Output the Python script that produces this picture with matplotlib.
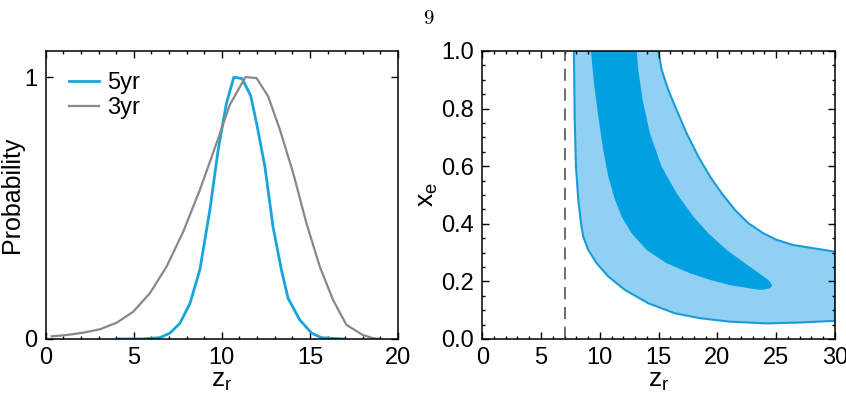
import matplotlib
matplotlib.use("Agg")
import matplotlib.pyplot as plt
from matplotlib.ticker import MultipleLocator, FixedLocator, FormatStrFormatter

plt.rcParams['font.family'] = ['Liberation Sans', 'DejaVu Sans']
plt.rcParams['mathtext.fontset'] = 'custom'
plt.rcParams['mathtext.rm'] = 'Liberation Sans'
plt.rcParams['mathtext.it'] = 'Liberation Sans'

# ---- data: left panel (1D probability of z_r) ----
z5 = [4.1, 5.5, 6.48, 7.05, 7.62, 8.19, 8.75, 9.32, 9.79, 10.26, 10.68, 11.15,
      11.63, 11.97, 12.44, 12.9, 13.38, 13.76, 14.42, 15.1, 15.65, 16.9]
p5 = [0.0, 0.0, 0.005, 0.022, 0.06, 0.136, 0.264, 0.493, 0.722, 0.90, 1.0, 0.994,
      0.93, 0.824, 0.659, 0.43, 0.264, 0.155, 0.073, 0.022, 0.005, 0.0]
z3 = [0.34, 1.19, 2.14, 3.08, 4.03, 4.97, 5.92, 6.86, 7.81, 8.75, 9.7, 10.45,
      11.34, 11.97, 12.63, 13.29, 14.05, 14.8, 15.56, 16.31, 17.07, 18.0, 18.58, 18.96]
p3 = [0.01, 0.015, 0.024, 0.037, 0.062, 0.104, 0.175, 0.276, 0.41, 0.569, 0.748, 0.894,
      1.0, 0.996, 0.926, 0.80, 0.633, 0.442, 0.276, 0.149, 0.054, 0.015, 0.003, 0.0]
labels_1d = ['5yr', '3yr']

# ---- data: right panel (2D confidence regions z_r vs x_e) ----
outer_z = [7.80, 7.86, 7.97, 8.17, 8.40, 8.59, 9.02, 9.73, 10.72, 12.14, 14.12, 16.39,
           18.52, 21.07, 24.19, 27.02, 30.0,
           30.0, 28.16, 26.46, 25.04, 23.9, 22.63, 21.49, 20.36, 19.37, 18.38, 17.38,
           16.53, 15.82, 15.26, 14.97]
outer_x = [1.0, 0.772, 0.598, 0.483, 0.402, 0.355, 0.309, 0.263, 0.217, 0.17, 0.124, 0.089,
           0.072, 0.060, 0.054, 0.057, 0.063,
           0.303, 0.315, 0.326, 0.344, 0.367, 0.402, 0.448, 0.506, 0.564, 0.633, 0.714,
           0.795, 0.865, 0.934, 1.0]
inner_z = [9.25, 9.50, 9.87, 10.29, 10.72, 11.29, 11.85, 12.70, 13.98, 15.68, 17.67, 19.37,
           21.07, 22.63, 23.76, 24.47, 24.67, 24.33, 23.34, 22.34, 20.79, 19.23, 17.95,
           16.53, 15.26, 14.26, 13.64, 13.27, 13.13]
inner_x = [1.0, 0.888, 0.772, 0.656, 0.564, 0.483, 0.425, 0.367, 0.309, 0.263, 0.228, 0.205,
           0.187, 0.176, 0.170, 0.176, 0.187, 0.205, 0.234, 0.263, 0.309, 0.367, 0.425,
           0.506, 0.598, 0.714, 0.830, 0.934, 1.0]
z_limit = 7.0

BLUE = '#19A4DD'
GRAY = '#888888'
LIGHT = '#90D1F3'
DARK = '#00A0E1'
EDGE = '#1A9BD8'
FS = 17

fig = plt.figure(figsize=(8.46, 4.04), dpi=100)
ax1 = fig.add_axes([0.054, 0.161, 0.4165, 0.713])
ax2 = fig.add_axes([0.570, 0.161, 0.417, 0.713])

def style(ax):
    ax.tick_params(which='both', direction='in', top=True, right=True,
                   labelsize=FS, width=1.0, pad=6)
    ax.tick_params(which='major', length=5)
    ax.tick_params(which='minor', length=2.5)
    for s in ax.spines.values():
        s.set_linewidth(1.1)

# left panel
ax1.plot(z5, p5, color=BLUE, lw=2.0, label=labels_1d[0])
ax1.plot(z3, p3, color=GRAY, lw=1.6, label=labels_1d[1])
ax1.set_xlim(0, 20)
ax1.set_ylim(0, 1.1)
ax1.xaxis.set_major_locator(MultipleLocator(5))
ax1.xaxis.set_minor_locator(MultipleLocator(1))
ax1.yaxis.set_major_locator(FixedLocator([0, 1]))
style(ax1)
ax1.set_xlabel(r'z$_\mathrm{r}$', fontsize=19, labelpad=0)
ax1.set_ylabel('Probability', fontsize=18, labelpad=0)
ax1.legend(loc='upper left', frameon=False, fontsize=FS, handlelength=1.25,
           handletextpad=0.35, labelspacing=0.15, borderaxespad=0,
           bbox_to_anchor=(0.04, 0.96))

# right panel
ax2.fill(outer_z, outer_x, facecolor=LIGHT, edgecolor=EDGE, lw=1.5, zorder=1)
ax2.fill(inner_z, inner_x, facecolor=DARK, edgecolor='none', zorder=2)
ax2.axvline(z_limit, color='#444444', lw=1.1, ls=(0, (8, 5)), zorder=3)
ax2.set_xlim(0, 30)
ax2.set_ylim(0, 1.0)
ax2.xaxis.set_major_locator(MultipleLocator(5))
ax2.xaxis.set_minor_locator(MultipleLocator(1))
ax2.yaxis.set_major_locator(MultipleLocator(0.2))
ax2.yaxis.set_minor_locator(MultipleLocator(0.05))
ax2.yaxis.set_major_formatter(FormatStrFormatter('%.1f'))
style(ax2)
ax2.set_xlabel(r'z$_\mathrm{r}$', fontsize=19, labelpad=0)
ax2.set_ylabel(r'x$_\mathrm{e}$', fontsize=19, labelpad=1)

fig.text(0.506, 0.975, '9', fontfamily='cmr10', fontsize=15, ha='center', va='top')

fig.savefig('out.png', dpi=100)
